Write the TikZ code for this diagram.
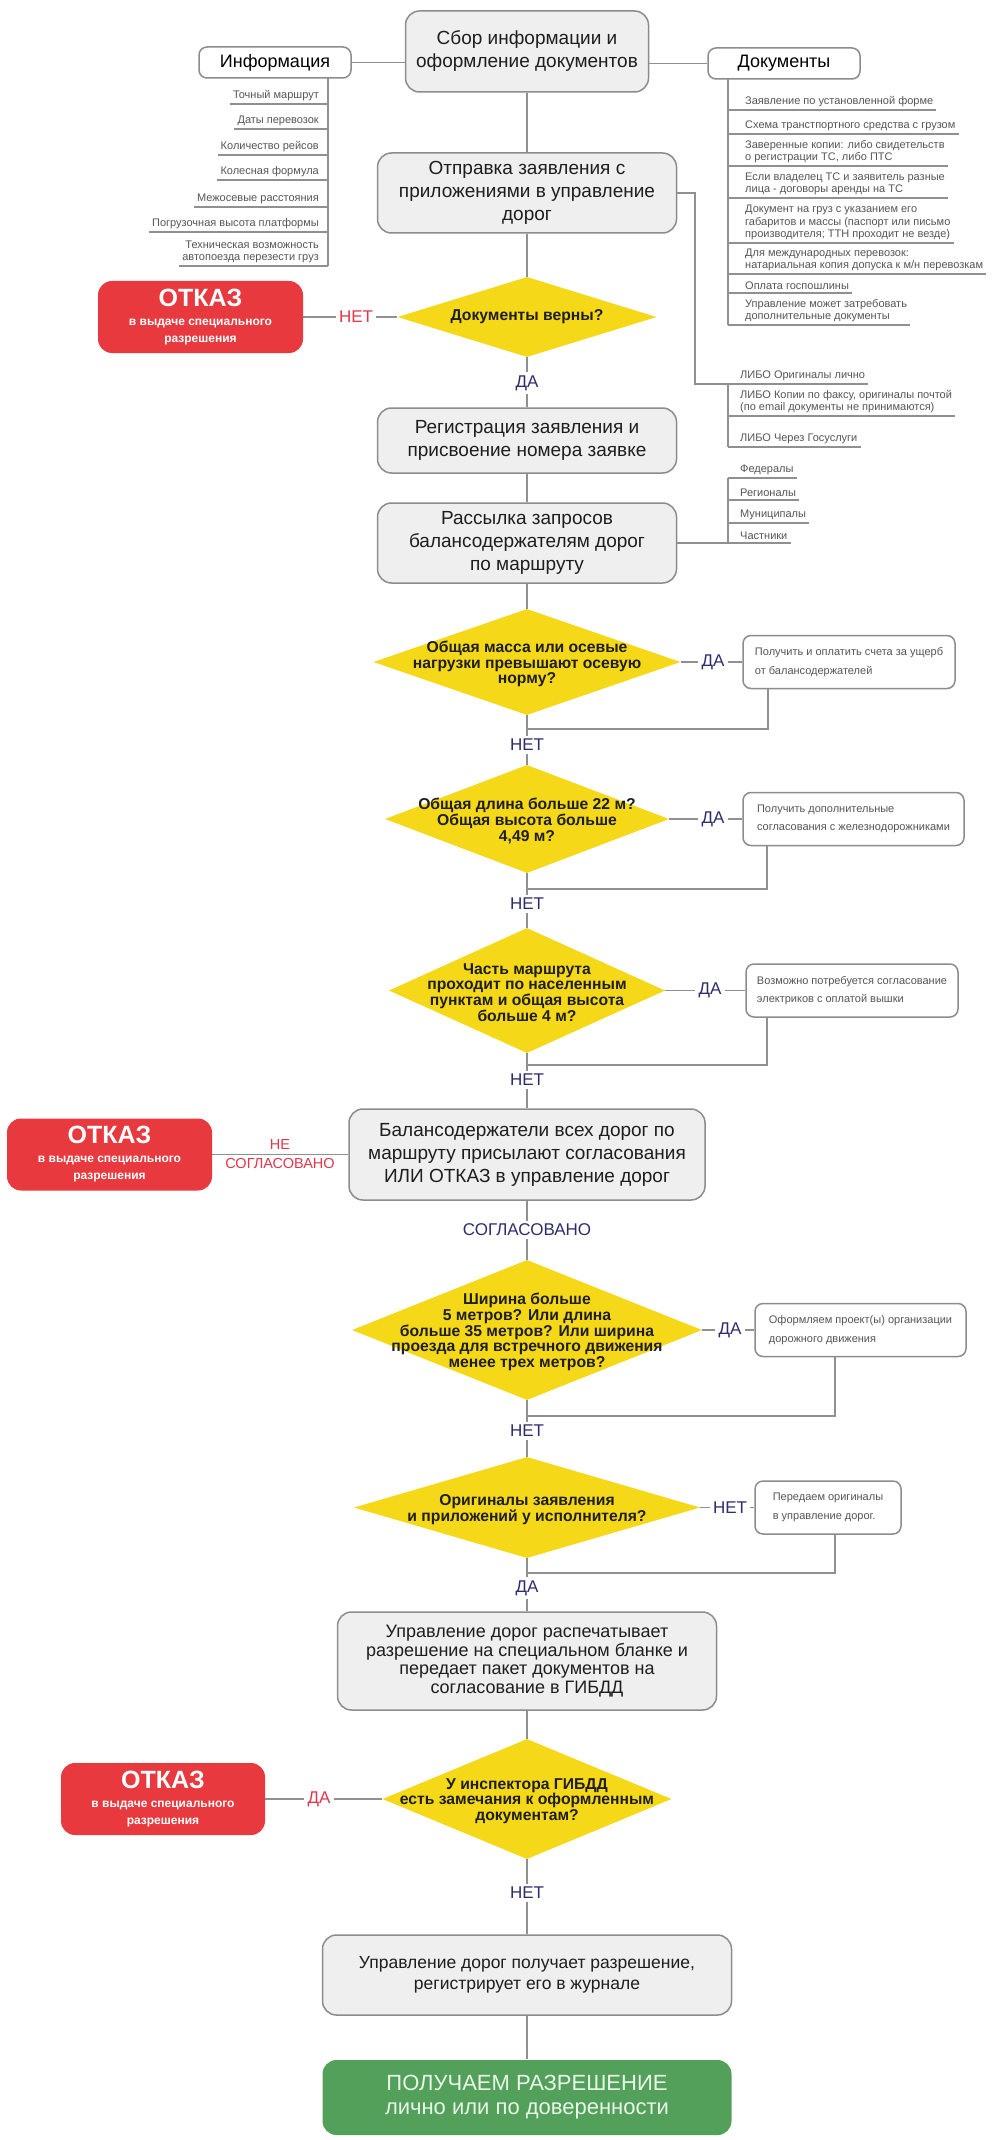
\documentclass[tikz,border=0pt]{standalone}
\usepackage{fontspec}
\setmainfont{Liberation Sans}
\usetikzlibrary{positioning,shapes,calc}
\usetikzlibrary{shapes.geometric}

\definecolor{stepgray}{HTML}{EFEFEF}
\definecolor{edgegray}{HTML}{8C8C8C}
\definecolor{wiregray}{HTML}{909090}
\definecolor{askyellow}{HTML}{F5D817}
\definecolor{denyred}{HTML}{E8393E}
\definecolor{okgreen}{HTML}{52A05A}
\definecolor{oktext}{HTML}{EAF5EA}
\definecolor{answerblue}{HTML}{2D2C6C}
\definecolor{answerred}{HTML}{E2364B}
\definecolor{smallgray}{HTML}{555555}
\definecolor{inkdark}{HTML}{1E1E1E}

\begin{document}
\begin{tikzpicture}[x=1pt,y=-1pt,
    wire/.style={draw=wiregray,line width=1.6pt},
    listwire/.style={draw=wiregray,line width=1.3pt},
    stepbox/.style={draw=edgegray,fill=stepgray,line width=1.5pt,rounded corners=14pt,
        align=center,text=inkdark,inner sep=0pt},
    headbox/.style={stepbox,font=\fontsize{19}{23}\selectfont,minimum width=299pt,minimum height=80pt},
    tagbox/.style={draw=edgegray,fill=white,line width=1.5pt,rounded corners=8pt,
        font=\fontsize{18}{20}\selectfont,minimum width=152pt,minimum height=31pt,inner sep=0pt},
    ask/.style={diamond,fill=askyellow,inner sep=0pt},
    asktext/.style={align=center,text=inkdark,font=\bfseries\fontsize{15.7}{15.7}\selectfont,yshift=-2pt},
    notebox/.style={draw=edgegray,fill=white,line width=1.5pt,rounded corners=8pt,align=left,
        text=smallgray,font=\fontsize{11}{18.5}\selectfont,minimum height=53pt,inner sep=0pt},
    deny/.style={fill=denyred,rounded corners=14pt,align=center,text=white,
        font=\bfseries\fontsize{12}{17}\selectfont,minimum width=205pt,minimum height=72pt,inner sep=0pt},
    answer/.style={text=answerblue,font=\fontsize{17}{17}\selectfont,inner sep=3pt},
    answerno/.style={answer,text=answerred},
    listitem/.style={text=smallgray,font=\fontsize{11}{12.5}\selectfont,inner ysep=3pt,inner xsep=3pt}
]
\useasboundingbox (0,0) rectangle (992,2140);

% top of the chart
\node [headbox,minimum width=243pt,minimum height=81pt] (collect) at (527,51.5) {Сбор информации и\\оформление документов};
\node [tagbox] (info) at (275,62.5) {Информация};
\node [tagbox] (docs) at (784,63.5) {Документы};
\draw [wire] (info.east) -- (info.east -| collect.west);
\draw [wire] (docs.west) -- (docs.west -| collect.east);

% what to collect
\coordinate (ibar) at (328,78);
\node [listitem,anchor=south east] (i1) at (322,104) {Точный маршрут};
\node [listitem,anchor=south east] (i2) at (322,129) {Даты перевозок};
\node [listitem,anchor=south east] (i3) at (322,155) {Количество рейсов};
\node [listitem,anchor=south east] (i4) at (322,180) {Колесная формула};
\node [listitem,anchor=south east] (i5) at (322,207) {Межосевые расстояния};
\node [listitem,anchor=south east] (i6) at (322,232) {Погрузочная высота платформы};
\node [listitem,anchor=south east,align=right] (i7) at (322,266) {Техническая возможность\\автопоезда перезести груз};
\draw [listwire] (ibar) -- (ibar |- i7.south)
    (i1.south west) -- (i1.south west -| ibar)
    (i2.south west) -- (i2.south west -| ibar)
    (i3.south west) -- (i3.south west -| ibar)
    (i4.south west) -- (i4.south west -| ibar)
    (i5.south west) -- (i5.south west -| ibar)
    (i6.south west) -- (i6.south west -| ibar)
    (i7.south west) -- (i7.south west -| ibar);

% documents
\coordinate (dbar) at (728,79);
\node [listitem,anchor=south west] (d1) at (742,110) {Заявление по установленной форме};
\node [listitem,anchor=south west] (d2) at (742,134) {Схема транстпортного средства с грузом};
\node [listitem,anchor=south west,align=left] (d3) at (742,166) {Заверенные копии: либо свидетельств\\о регистрации ТС, либо ПТС};
\node [listitem,anchor=south west,align=left] (d4) at (742,198) {Если владелец ТС и заявитель разные\\лица - договоры аренды на ТС};
\node [listitem,anchor=south west,align=left] (d5) at (742,243) {Документ на груз с указанием его\\габаритов и массы (паспорт или письмо\\производителя; ТТН проходит не везде)};
\node [listitem,anchor=south west,align=left] (d6) at (742,274) {Для международных перевозок:\\натариальная копия допуска к м/н перевозкам};
\node [listitem,anchor=south west] (d7) at (742,293) {Оплата госпошлины};
\node [listitem,anchor=south west,align=left] (d8) at (742,325) {Управление может затребовать\\дополнительные документы};
\draw [listwire] (dbar) -- (dbar |- d8.south)
    (dbar |- d1.south) -- (d1.south east)
    (dbar |- d2.south) -- (d2.south east)
    (dbar |- d3.south) -- (d3.south east)
    (dbar |- d4.south) -- (d4.south east)
    (dbar |- d5.south) -- (d5.south east)
    (dbar |- d6.south) -- (d6.south east)
    (dbar |- d7.south) -- (d7.south east)
    (dbar |- d8.south) -- (d8.south east);

% sending
\node [headbox] (send) at (527,193) {Отправка заявления с\\приложениями в управление\\дорог};
\coordinate (sbend) at (695,384);
\coordinate (lbar) at (728,384);
\node [listitem,anchor=south west] (l1) at (737,384) {ЛИБО Оригиналы лично};
\node [listitem,anchor=south west,align=left] (l2) at (737,416) {ЛИБО Копии по факсу, оригиналы почтой\\(по email документы не принимаются)};
\node [listitem,anchor=south west] (l3) at (737,447) {ЛИБО Через Госуслуги};
\draw [wire] (send.east) -| (sbend) -- (l1.south east);
\draw [listwire] (lbar) -- (lbar |- l3.south)
    (lbar |- l2.south) -- (l2.south east)
    (lbar |- l3.south) -- (l3.south east);

\node [ask,minimum width=259pt,minimum height=80pt,
    label={[asktext,yshift=2pt]center:{Документы верны?}}] (check1) at (527,317) {};
\node [deny] (refuse1) at (200.5,317) {{\fontsize{25}{25}\selectfont ОТКАЗ}\\[2pt]в выдаче специального\\разрешения};
\node [answerno] (no0) at (356,317) {НЕТ};
\node [answer] (yes0) at (527,383) {ДА};
\draw [wire] (refuse1) -- (no0) -- (check1);

\node [headbox,minimum height=65pt] (reg) at (527,440.5) {Регистрация заявления и\\присвоение номера заявке};
\node [headbox] (mail) at (527,543) {Рассылка запросов\\балансодержателям дорог\\по маршруту};

% road owners
\coordinate (mbar) at (728,543);
\node [listitem,anchor=south west] (m1) at (737,478) {Федералы};
\node [listitem,anchor=south west] (m2) at (737,500) {Регионалы};
\node [listitem,anchor=south west] (m3) at (737,523) {Муниципалы};
\node [listitem,anchor=south west] (m4) at (737,543) {Частники};
\draw [wire] (mail.east) -- (mbar);
\draw [listwire] (mbar) -- (mbar |- m1.south)
    (mbar |- m1.south) -- (m1.south east)
    (mbar |- m2.south) -- (m2.south east)
    (mbar |- m3.south) -- (m3.south east)
    (mbar |- m4.south) -- (m4.south east);

% checks on size and weight
\node [ask,minimum width=307pt,minimum height=106pt,
    label={[asktext]center:{Общая масса или осевые\\нагрузки превышают осевую\\норму?}}] (q1) at (527,662) {};
\node [answer] (yes1) at (713,662) {ДА};
\node [notebox,minimum width=212pt] (n1) at (849,662) {Получить и оплатить счета за ущерб\\от балансодержателей};
\coordinate (j1) at (527,729);
\node [answer] (no1) at (527,745) {НЕТ};

\node [ask,minimum width=284pt,minimum height=108pt,
    label={[asktext]center:{Общая длина больше 22 м?\\Общая высота больше\\4,49 м?}}] (q2) at (527,819) {};
\node [answer] (yes2) at (713,819) {ДА};
\node [notebox,minimum width=221pt] (n2) at (853.5,819) {Получить дополнительные\\согласования с железнодорожниками};
\coordinate (j2) at (527,889);
\node [answer] (no2) at (527,904) {НЕТ};

\node [ask,minimum width=276pt,minimum height=125pt,
    label={[asktext]center:{Часть маршрута\\проходит по населенным\\пунктам и общая высота\\больше 4 м?}}] (q3) at (527,990.5) {};
\node [answer] (yes3) at (710,990.5) {ДА};
\node [notebox,minimum width=212pt] (n3) at (852,990.5) {Возможно потребуется согласование\\электриков с оплатой вышки};
\coordinate (j3) at (527,1065);
\node [answer] (no3) at (527,1080) {НЕТ};

\draw [wire] (collect) -- (send) -- (check1) -- (yes0) -- (reg) -- (mail) -- (q1) -- (j1) -- (no1) -- (q2) -- (j2) -- (no2) -- (q3) -- (j3) -- (no3);
\draw [wire] (q1) -- (yes1) -- (n1);
\draw [wire] ([xshift=26pt]n1.south west) |- (j1);
\draw [wire] (q2) -- (yes2) -- (n2);
\draw [wire] ([xshift=25pt]n2.south west) |- (j2);
\draw [wire] (q3) -- (yes3) -- (n3);
\draw [wire] ([xshift=22pt]n3.south west) |- (j3);

% answers from the road owners
\node [stepbox,font=\fontsize{19}{23}\selectfont,minimum width=356pt,minimum height=91pt] (owners) at (527,1154.5) {Балансодержатели всех дорог по\\маршруту присылают согласования\\ИЛИ ОТКАЗ в управление дорог};
\node [deny] (refuse2) at (109.5,1154.5) {{\fontsize{25}{25}\selectfont ОТКАЗ}\\[2pt]в выдаче специального\\разрешения};
\node [answerno,align=center,font=\fontsize{14.5}{19}\selectfont] (disagree) at (280,1154.5) {НЕ\\СОГЛАСОВАНО};
\node [answer] (agreed) at (527,1230) {СОГЛАСОВАНО};
\draw [wire] (refuse2) -- (owners);

\node [ask,minimum width=350pt,minimum height=140pt,
    label={[asktext]center:{Ширина больше\\5 метров? Или длина\\больше 35 метров? Или ширина\\проезда для встречного движения\\менее трех метров?}}] (q4) at (527,1330) {};
\node [answer] (yes4) at (730,1330) {ДА};
\node [notebox,minimum width=211pt] (n4) at (860.5,1330) {Оформляем проект(ы) организации\\дорожного движения};
\coordinate (j4) at (527,1416);
\node [answer] (no4) at (527,1431) {НЕТ};

\node [ask,minimum width=346pt,minimum height=101pt,
    label={[asktext]center:{Оригиналы заявления\\и приложений у исполнителя?}}] (q5) at (527,1507.5) {};
\node [answer] (no5) at (730,1507.5) {НЕТ};
\node [notebox,minimum width=146pt] (n5) at (828,1507.5) {Передаем оригиналы\\в управление дорог.};
\coordinate (j5) at (527,1573);
\node [answer] (yes5) at (527,1588) {ДА};

% permit and the traffic police
\node [stepbox,font=\fontsize{18}{18.5}\selectfont,minimum width=379pt,minimum height=98pt] (print) at (527,1661) {Управление дорог распечатывает\\разрешение на специальном бланке и\\передает пакет документов на\\согласование в ГИБДД};
\node [ask,minimum width=289pt,minimum height=120pt,
    label={[asktext]center:{У инспектора ГИБДД\\есть замечания к оформленным\\документам?}}] (q6) at (527,1799) {};
\node [deny,minimum width=204pt] (refuse3) at (163,1799) {{\fontsize{25}{25}\selectfont ОТКАЗ}\\[2pt]в выдаче специального\\разрешения};
\node [answerno] (yes6) at (319,1799) {ДА};
\node [answer] (no6) at (527,1893) {НЕТ};
\node [stepbox,font=\fontsize{17.5}{21}\selectfont,minimum width=409pt,minimum height=80pt] (reg2) at (527,1975) {Управление дорог получает разрешение,\\регистрирует его в журнале};
\node [stepbox,draw=none,fill=okgreen,text=oktext,font=\fontsize{22}{24}\selectfont,minimum width=409pt,minimum height=75pt] (final) at (527,2097.5) {ПОЛУЧАЕМ РАЗРЕШЕНИЕ\\лично или по доверенности};

\draw [wire] (no3) -- (owners) -- (agreed) -- (q4) -- (j4) -- (no4) -- (q5) -- (j5) -- (yes5) -- (print) -- (q6) -- (no6) -- (reg2) -- (final);
\draw [wire] (q4) -- (yes4) -- (n4);
\draw [wire] ([xshift=81pt]n4.south west) |- (j4);
\draw [wire] (q5) -- (no5) -- (n5);
\draw [wire] ([xshift=81pt]n5.south west) |- (j5);
\draw [wire] (refuse3) -- (yes6) -- (q6);

\end{tikzpicture}
\end{document}
